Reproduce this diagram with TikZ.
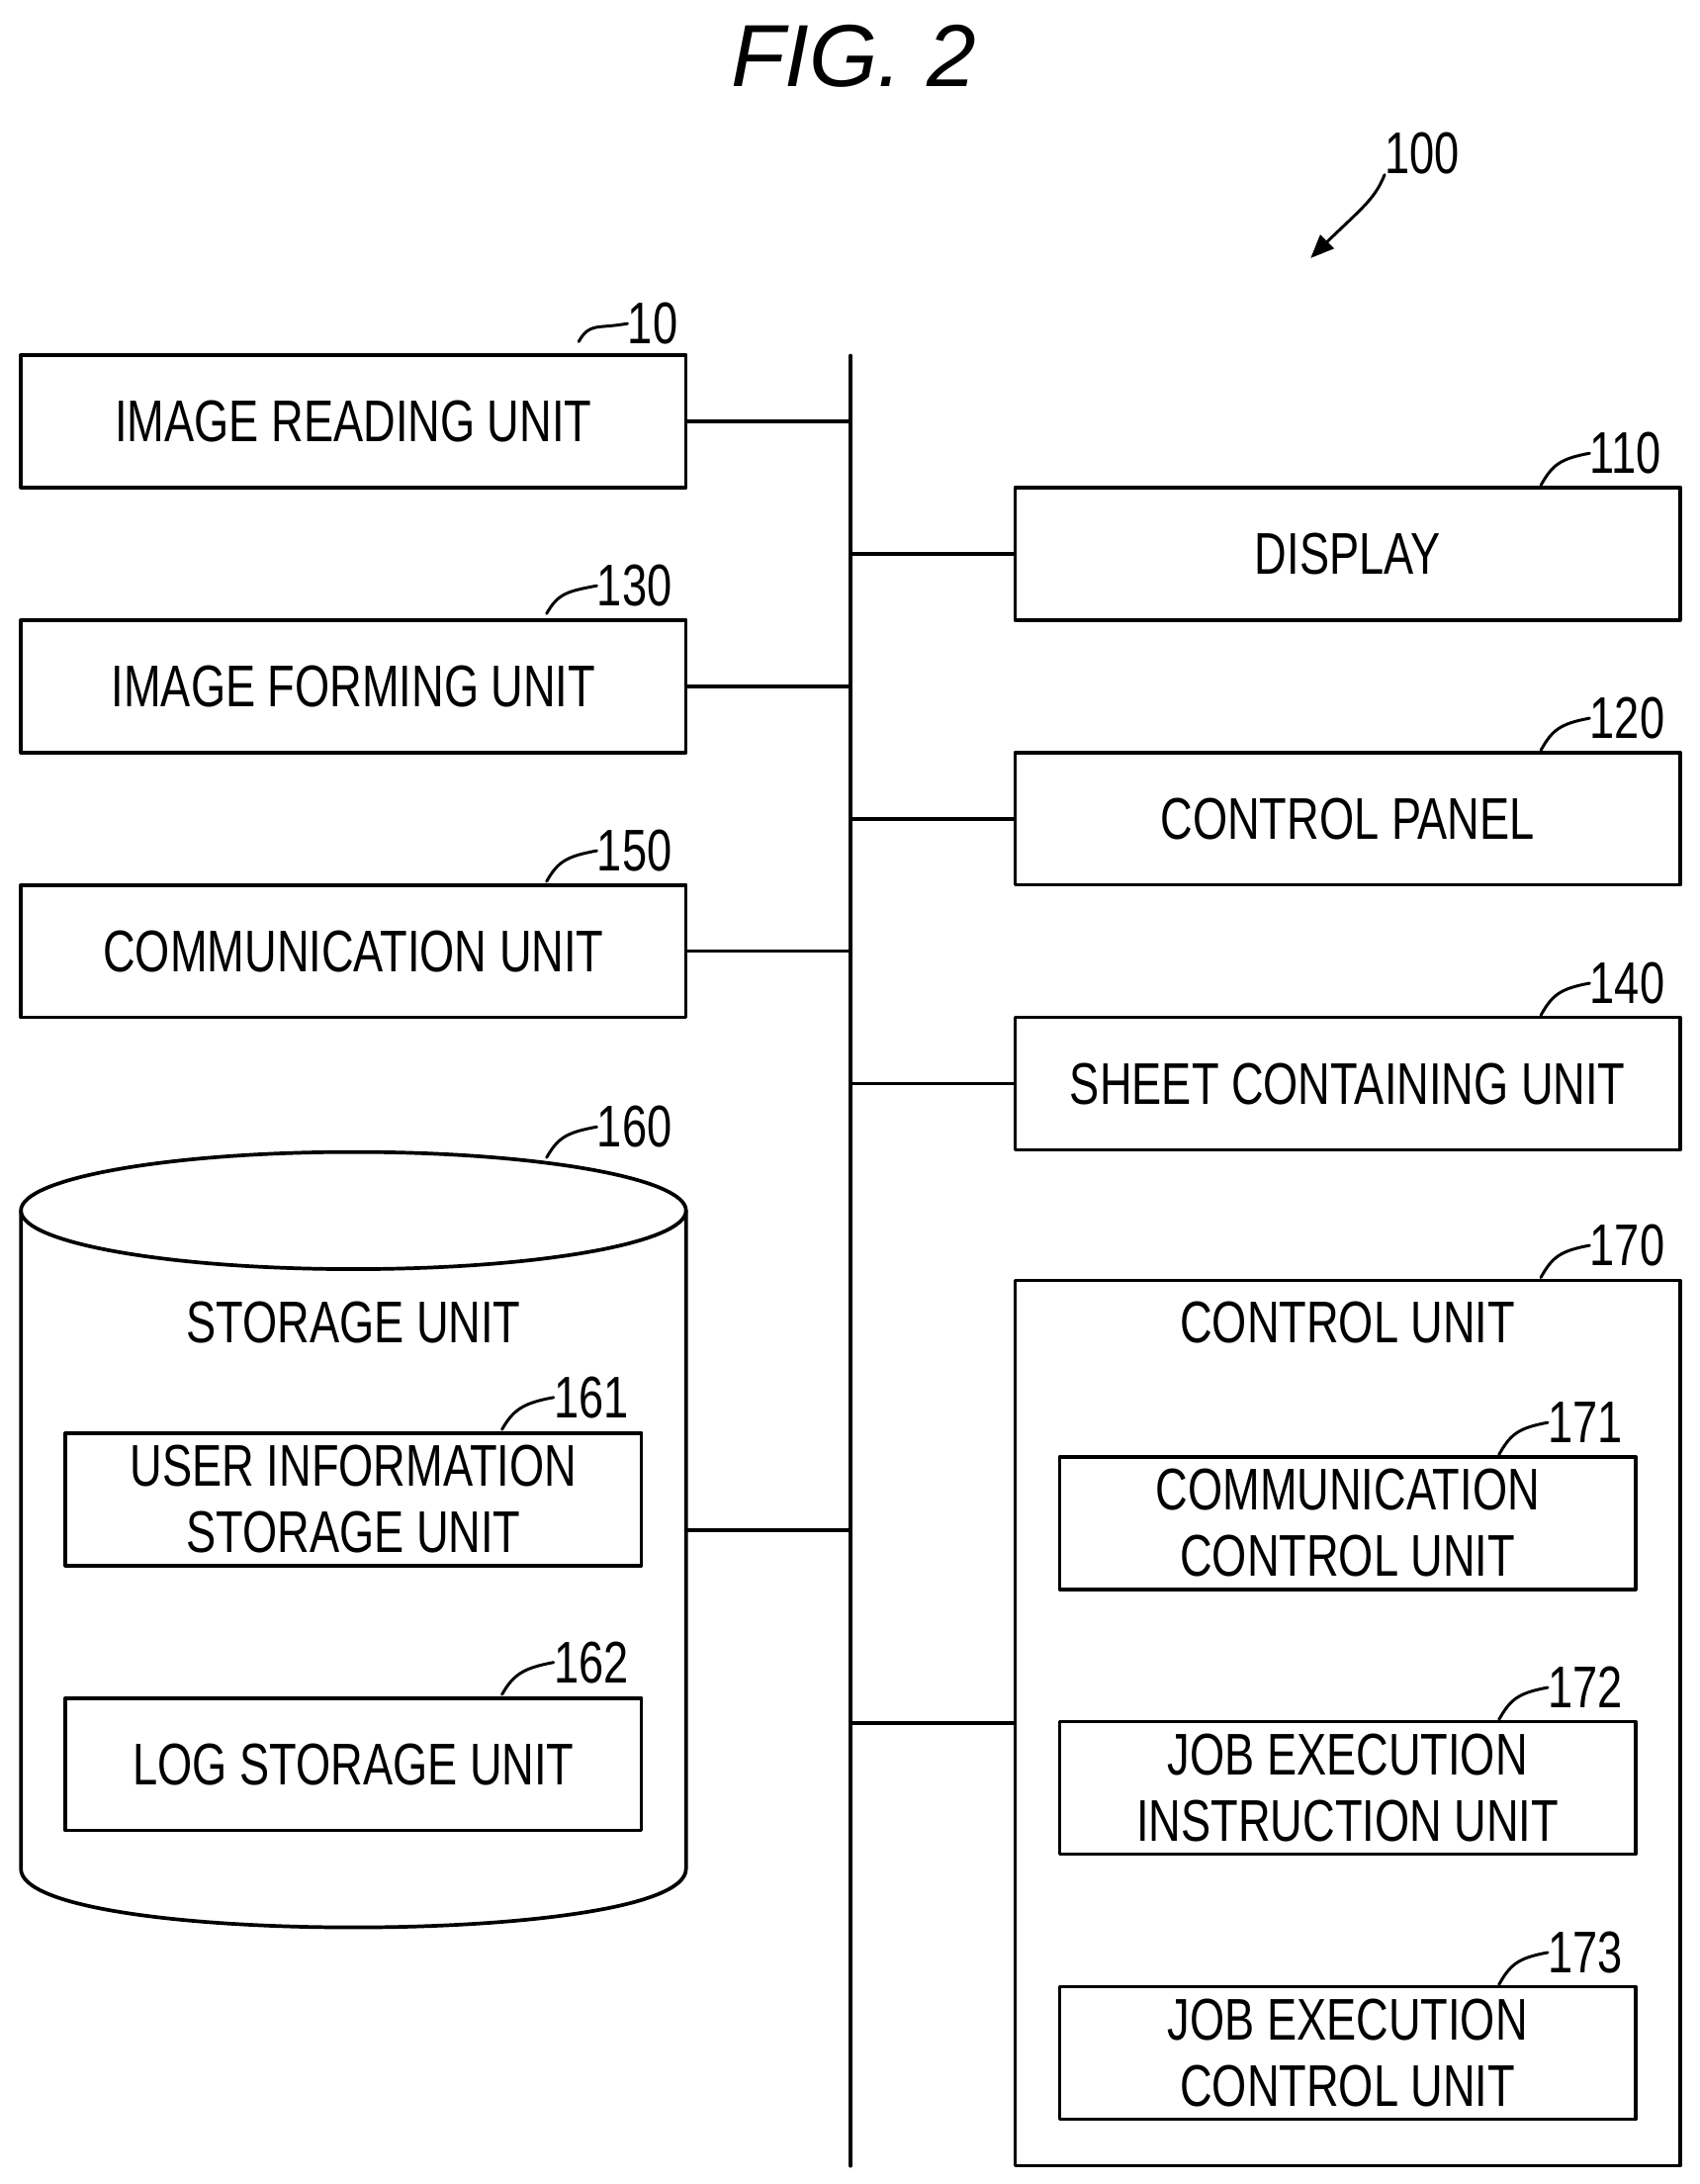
\documentclass[tikz,border=0pt]{standalone}
\usepackage{fontspec}
\setmainfont{Liberation Sans}
\newfontfamily\condensed[FakeStretch=0.76]{Liberation Sans}
\usetikzlibrary{arrows}

\tikzset{
  unit/.style={draw,line width=1.5pt,minimum width=9.54cm,minimum height=1.9cm,inner sep=0pt,
    font=\condensed\fontsize{24}{27}\selectfont,align=center},
  inner unit/.style={unit,minimum width=8.26cm},
  refno/.style={anchor=west,inner sep=0pt,font=\condensed\fontsize{24}{27}\selectfont},
  wire/.style={line width=1.5pt}
}
\newcommand{\leadnum}[5]{% name, number x, y, start x, y
  \node[refno] (#1) at (#2,#3) {#1};
  \draw[line width=1.2pt] (#4,#5) .. controls (#4+8,#5-14) and (#2-22,#3+4) .. (#1.west);
}

\begin{document}
\begin{tikzpicture}[line cap=round,line join=round,>=triangle 45,x=0.02cm,y=-0.02cm]
\useasboundingbox (0,0) rectangle (1219,1566);
\node[font=\itshape\fontsize{36}{40}\selectfont] (fig) at (612,40) {FIG. 2};
% bus
\coordinate (bustop) at (610,255);
\coordinate (busbot) at (610,1553);
\draw[wire] (bustop) -- (busbot);
% left units
\node[unit] (read) at (253.5,302) {IMAGE READING UNIT};
\node[unit] (form) at (253.5,492) {IMAGE FORMING UNIT};
\node[unit] (comm) at (253.5,682) {COMMUNICATION UNIT};
% right units
\node[unit] (disp) at (966.5,397) {DISPLAY};
\node[unit] (panel) at (966.5,587) {CONTROL PANEL};
\node[unit] (sheet) at (966.5,777) {SHEET CONTAINING UNIT};
% control unit
\node[draw,line width=1.5pt,minimum width=9.54cm,minimum height=12.7cm,inner sep=0pt] (ctrl) at (966.5,1235.5) {};
\node[font=\condensed\fontsize{24}{27}\selectfont] (ctrltxt) at (966.5,948) {CONTROL UNIT};
\node[inner unit] (cc) at (966.5,1092) {COMMUNICATION\\CONTROL UNIT};
\node[inner unit] (jei) at (966.5,1282) {JOB EXECUTION\\INSTRUCTION UNIT};
\node[inner unit] (jec) at (966.5,1472) {JOB EXECUTION\\CONTROL UNIT};
% storage unit
\draw[line width=1.5pt] (253.5,868) ellipse [x radius=238.5,y radius=42];
\draw[line width=1.5pt] (15,868) -- (15,1340) .. controls (15,1396) and (492,1396) .. (492,1340) -- (492,868);
\coordinate (store) at (492,1097);
\node[font=\condensed\fontsize{24}{27}\selectfont] (storetxt) at (253.5,948) {STORAGE UNIT};
\node[inner unit] (uis) at (253.5,1075) {USER INFORMATION\\STORAGE UNIT};
\node[inner unit] (logs) at (253.5,1265) {LOG STORAGE UNIT};
% wires to bus
\draw[wire] (read.east) -- (read.east -| bustop);
\draw[wire] (form.east) -- (form.east -| bustop);
\draw[wire] (comm.east) -- (comm.east -| bustop);
\draw[wire] (store) -- (store -| bustop);
\draw[wire] (disp.west) -- (disp.west -| bustop);
\draw[wire] (panel.west) -- (panel.west -| bustop);
\draw[wire] (sheet.west) -- (sheet.west -| bustop);
\draw[wire] (ctrl.west) -- (ctrl.west -| bustop);
% reference numbers
\leadnum{10}{450}{232}{415}{245}
\leadnum{110}{1140}{325}{1105}{348}
\leadnum{130}{428}{420}{392}{440}
\leadnum{120}{1140}{515}{1105}{538}
\leadnum{150}{428}{610}{392}{632}
\leadnum{140}{1140}{705}{1105}{728}
\leadnum{160}{428}{808}{392}{830}
\leadnum{170}{1140}{893}{1105}{916}
\leadnum{161}{397}{1002}{360}{1025}
\leadnum{171}{1110}{1020}{1075}{1043}
\leadnum{162}{397}{1192}{360}{1215}
\leadnum{172}{1110}{1210}{1075}{1233}
\leadnum{173}{1110}{1400}{1075}{1423}
\node[refno] (100) at (993,110) {100};
\coordinate (sys) at (940,185);
\draw[line width=1.2pt,->] (100.south west) .. controls (985,145) and (975,150) .. (sys);
\end{tikzpicture}
\end{document}
